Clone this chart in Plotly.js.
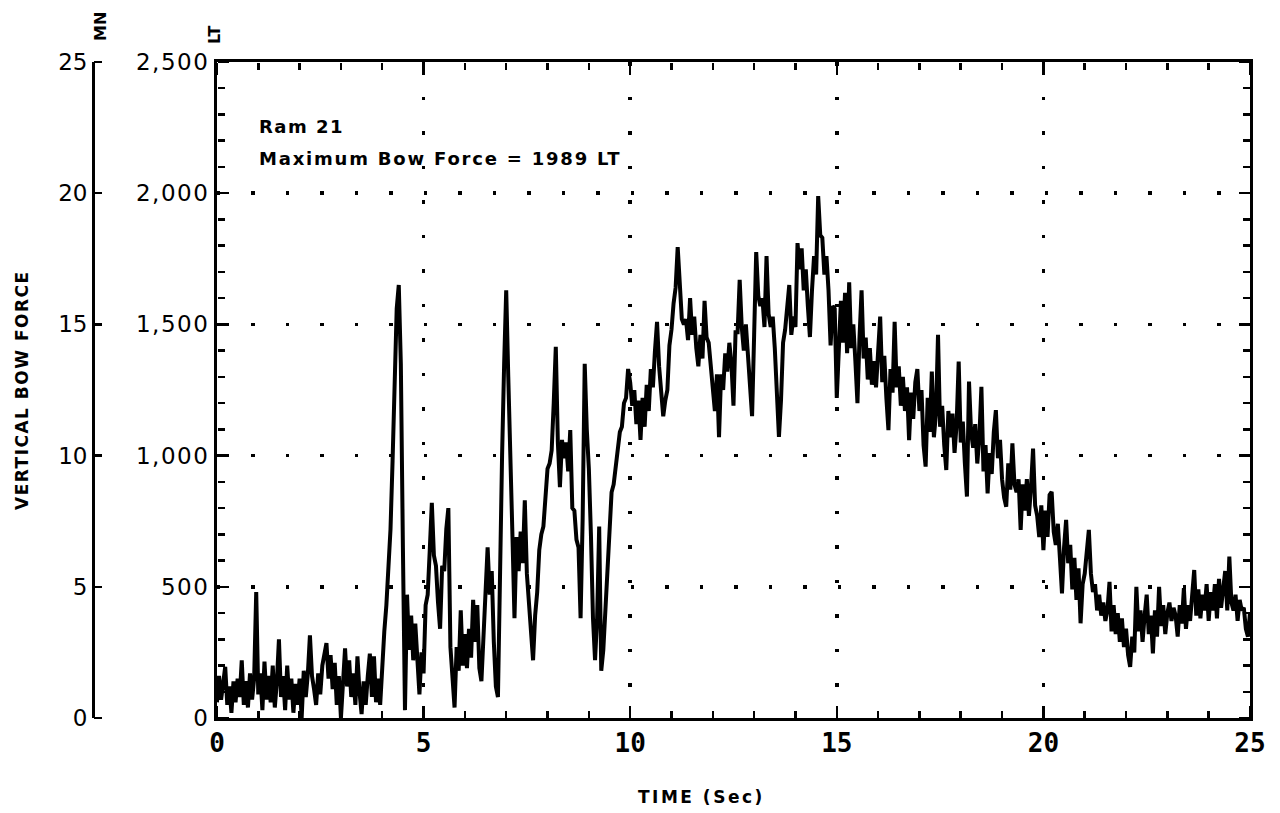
<!DOCTYPE html>
<html>
<head>
<meta charset="utf-8">
<script src="https://cdn.plot.ly/plotly-3.0.1.min.js"></script>
<style>html,body{margin:0;padding:0;background:#fff;}#chart{width:1280px;height:813px;}</style>
</head>
<body>
<div id="chart"></div>
<script>
// Sampling of the recorded trace (seconds)
const sampleStep = 0.05;

// Vertical bow force (LT), read from the record, 0.05 s apart
const force0to5 = [
  60,160,70,130,195,50,120,20,140,60,150,80,220,50,140,40,170,70,150,480,
  90,170,30,215,70,160,60,200,40,140,300,80,160,30,200,70,150,20,130,50,
  150,0,180,80,170,315,160,110,50,170,90,200,250,285,150,240,110,210,50,160,
  0,170,265,120,220,80,170,50,235,100,15,140,50,160,245,80,235,60,150,50,
  220,330,430,580,720,980,1300,1560,1650,1350,650,30,470,260,390,220,360,190,90,250
];
const force5to10 = [
  170,430,470,640,820,620,580,440,340,580,560,720,800,270,120,40,270,180,410,200,
  320,190,340,230,450,290,430,190,140,320,440,650,470,560,290,120,80,600,1000,1350,
  1630,1300,1050,700,380,690,560,710,590,830,550,420,350,220,390,480,640,700,730,830,
  950,970,1020,1200,1415,1050,880,1060,990,1050,940,1097,800,790,680,650,380,760,1350,1100,
  950,700,380,220,380,730,180,260,430,590,770,860,890,950,1010,1090,1110,1200,1220,1330
];
const force10to15 = [
  1280,1190,1250,1120,1210,1060,1220,1110,1270,1170,1330,1260,1400,1510,1340,1230,1150,1210,1250,1420,
  1480,1580,1640,1795,1630,1520,1500,1520,1440,1600,1460,1530,1410,1340,1460,1370,1590,1450,1430,1340,
  1260,1170,1310,1070,1310,1250,1390,1320,1430,1350,1190,1470,1470,1670,1490,1400,1500,1370,1260,1150,
  1460,1776,1610,1570,1600,1490,1760,1540,1490,1530,1410,1240,1071,1210,1430,1480,1560,1650,1460,1530,
  1490,1810,1710,1790,1630,1710,1570,1452,1630,1760,1690,1989,1840,1830,1690,1760,1630,1420,1570,1560
];
const force15to20 = [
  1220,1420,1590,1430,1620,1390,1660,1410,1500,1360,1200,1450,1630,1370,1450,1290,1410,1270,1360,1260,
  1390,1530,1280,1380,1220,1097,1330,1240,1510,1260,1340,1190,1300,1170,1260,1059,1240,1140,1280,1330,
  1170,1250,1040,958,1220,1090,1320,1070,1160,1460,1110,1190,1040,945,1170,1070,1160,1010,1120,1358,
  1050,1130,970,844,1282,1090,1030,1120,970,1070,1262,940,1040,856,1010,930,1090,1173,990,1060,
  910,840,805,970,870,1047,890,860,910,717,890,790,910,770,880,1027,810,770,690,810
];
const force20to25 = [
  640,790,690,850,862,710,660,740,610,475,650,755,590,660,490,610,450,570,361,510,
  550,630,717,550,480,510,410,470,390,440,370,410,519,330,430,320,400,290,380,270,
  340,240,195,310,250,500,330,410,290,390,470,320,390,246,410,310,500,350,430,320,
  400,440,370,420,390,310,430,360,495,340,430,370,460,564,390,490,380,470,410,510,
  370,480,410,510,380,530,420,490,560,410,615,440,410,470,370,450,410,420,340,310,
  400
];

// Axis ticks and labels
const timeTicks = [0, 5, 10, 15, 20, 25];
const ltTicks = [0, 500, 1000, 1500, 2000, 2500];
const ltTickLabels = ['0', '500', '1,000', '1,500', '2,000', '2,500'];
const mnTicks = [0, 5, 10, 15, 20, 25];

const force = [].concat(force0to5, force5to10, force10to15, force15to20, force20to25);
const time = force.map((_, i) => +(i * sampleStep).toFixed(2));

const spaced = (s, px) => '<span style="letter-spacing:' + px + 'px">' + s + '</span>';

// empty carrier traces so that each tick-only overlay axis is drawn
const carrier = (xa, ya) => ({x: [], y: [], type: 'scatter', mode: 'lines', xaxis: xa, yaxis: ya,
  hoverinfo: 'skip', showlegend: false});

const data = [
  {
    x: time, y: force, type: 'scatter', mode: 'lines',
    line: {color: '#000', width: 4},
    hoverinfo: 'x+y', showlegend: false
  },
  carrier('x', 'y2'), carrier('x2', 'y'), carrier('x3', 'y'),
  carrier('x', 'y3'), carrier('x', 'y4'), carrier('x', 'y5')
];

const PLOT_LEFT = 0.1669;
const MN_POS = 0.067;
const gridDash = '3.5px,31px';
const tickOnly = {showticklabels: false, showgrid: false, zeroline: false, showline: false,
  tickcolor: '#000', tickwidth: 2.5, ticks: 'outside'};
const timeTickAxis = (pos, side) => Object.assign({
  overlaying: 'x', anchor: 'free', position: pos, side: side, domain: [PLOT_LEFT, 1],
  range: [0, 25], tickmode: 'array', tickvals: timeTicks, ticklen: 12,
  minor: {dtick: 1, ticks: 'outside', ticklen: 7, tickwidth: 2.5, tickcolor: '#000'}
}, tickOnly);
const ltTickAxis = (pos, side) => Object.assign({
  overlaying: 'y', anchor: 'free', position: pos, side: side,
  range: [0, 2500], tickmode: 'array', tickvals: ltTicks, ticklen: 11,
  minor: {dtick: 100, ticks: 'outside', ticklen: 7, tickwidth: 2.5, tickcolor: '#000'}
}, tickOnly);

const layout = {
  width: 1280, height: 813,
  margin: {l: 10, r: 30, t: 62, b: 95},
  paper_bgcolor: '#fff', plot_bgcolor: 'rgba(0,0,0,0)',
  showlegend: false,
  font: {family: 'DejaVu Sans, sans-serif', color: '#000'},
  xaxis: {
    domain: [PLOT_LEFT, 1],
    range: [0, 25],
    tickmode: 'array', tickvals: timeTicks, ticks: '',
    showline: true, linewidth: 3, linecolor: '#000', mirror: true,
    showgrid: true, gridcolor: '#000', gridwidth: 3.5, griddash: gridDash,
    zeroline: false,
    tickfont: {family: 'DejaVu Sans Mono, monospace', size: 26, weight: 'bold', color: '#000'}
  },
  yaxis: {
    range: [0, 2500],
    tickmode: 'array', tickvals: ltTicks, ticktext: ltTickLabels.map(s => spaced(s, 1.5)), ticks: '',
    showline: true, linewidth: 3, linecolor: '#000', mirror: true,
    showgrid: true, gridcolor: '#000', gridwidth: 3.5, griddash: gridDash,
    zeroline: false,
    tickfont: {size: 23, color: '#000'},
    ticksuffix: '\u2002'
  },
  yaxis2: {
    overlaying: 'y', anchor: 'free', position: MN_POS, side: 'left',
    range: [0, 25], tickmode: 'array', tickvals: mnTicks, ticks: '',
    showline: true, linewidth: 3, linecolor: '#000',
    showgrid: false, zeroline: false,
    tickfont: {size: 23, color: '#000'},
    ticksuffix: '\u2002'
  },
  // tick marks pointing into the frame (bottom, top, left, right) and to the right of the MN scale
  xaxis2: timeTickAxis(0, 'top'),
  xaxis3: timeTickAxis(1, 'bottom'),
  yaxis3: ltTickAxis(PLOT_LEFT, 'right'),
  yaxis4: ltTickAxis(1, 'left'),
  yaxis5: Object.assign({
    overlaying: 'y', anchor: 'free', position: MN_POS, side: 'right',
    range: [0, 25], tickmode: 'array', tickvals: mnTicks, ticklen: 8
  }, tickOnly),
  annotations: [
    {xref: 'paper', yref: 'paper', x: 0.0734, y: 1.0534, xanchor: 'center', yanchor: 'middle',
     text: '<b>MN</b>', textangle: -90, showarrow: false, font: {size: 16, color: '#000'}},
    {xref: 'paper', yref: 'paper', x: 0.1653, y: 1.0427, xanchor: 'center', yanchor: 'middle',
     text: '<b>LT</b>', textangle: -90, showarrow: false, font: {size: 16, color: '#000'}},
    {xref: 'paper', yref: 'paper', x: 0.0097, y: 0.5, xanchor: 'center', yanchor: 'middle',
     text: '<b>' + spaced('VERTICAL BOW FORCE', 1.5) + '</b>', textangle: -90, showarrow: false,
     font: {size: 17, color: '#000'}},
    {xref: 'paper', yref: 'paper', x: 0.5573, y: -0.1204, xanchor: 'center', yanchor: 'middle',
     text: '<b>' + spaced('TIME (Sec)', 2.5) + '</b>', showarrow: false,
     font: {size: 17, color: '#000'}},
    {xref: 'x', yref: 'y', x: 0.98, y: 2256, xanchor: 'left', text: '<b>' + spaced('Ram 21', 1.5) + '</b>',
     showarrow: false, font: {size: 18, color: '#000'}},
    {xref: 'x', yref: 'y', x: 0.98, y: 2134, xanchor: 'left',
     text: '<b>' + spaced('Maximum Bow Force = 1989 LT', 1.8) + '</b>',
     showarrow: false, font: {size: 18, color: '#000'}}
  ]
};

Plotly.newPlot('chart', data, layout, {displayModeBar: false, staticPlot: true});
</script>
</body>
</html>
